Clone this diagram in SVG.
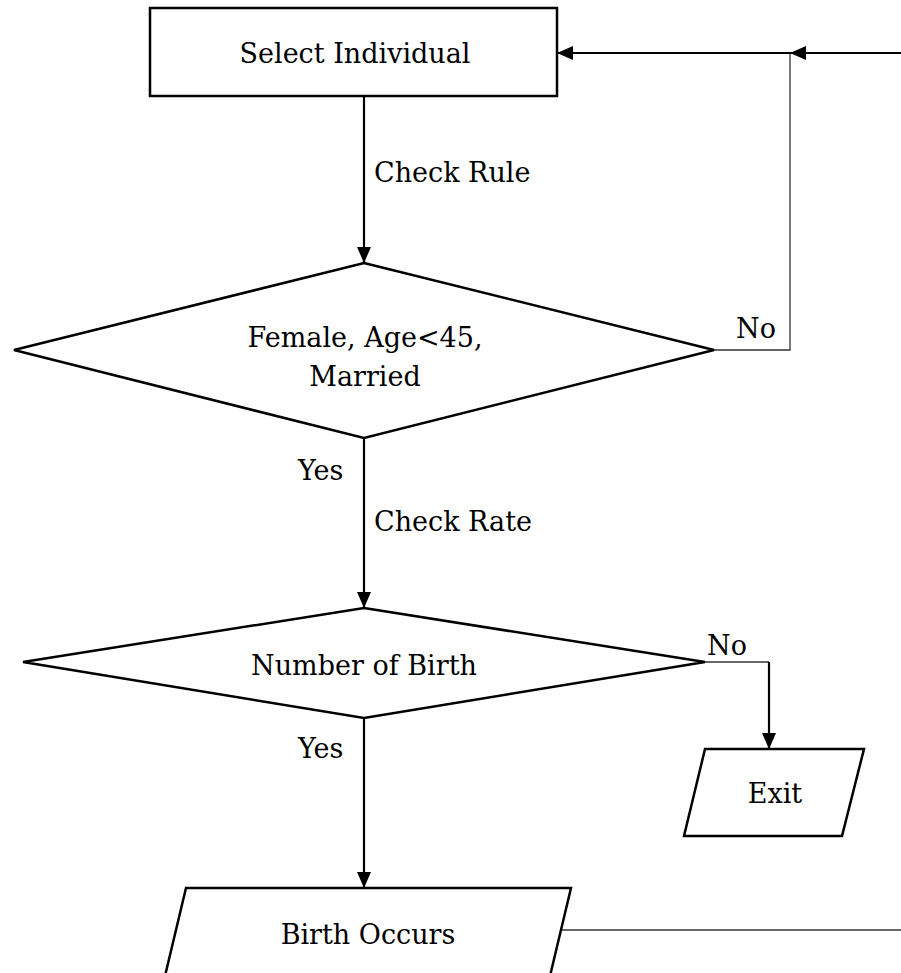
<svg xmlns="http://www.w3.org/2000/svg" width="901" height="973" viewBox="0 0 901 973">
<style>
.shape{fill:#fff;stroke:#000;stroke-width:2.5}
.t{font-family:"DejaVu Serif","Liberation Serif",serif;font-size:27px;fill:#000}
.c{text-anchor:middle}
.thick{stroke:#000;stroke-width:2.2;fill:none}
.thin{stroke:#333;stroke-width:1.3;fill:none}
</style>
<defs>
<marker id="ah" markerUnits="userSpaceOnUse" markerWidth="16" markerHeight="14" viewBox="0 0 16 14" refX="16" refY="7" orient="auto">
<path d="M0,0 L16,7 L0,14 Z" fill="#000"/>
</marker>
</defs>
<g id="connectors">
<line class="thick" x1="364" y1="96" x2="364" y2="263" marker-end="url(#ah)"/>
<line class="thick" x1="364" y1="438" x2="364" y2="608" marker-end="url(#ah)"/>
<line class="thick" x1="364" y1="718" x2="364" y2="888" marker-end="url(#ah)"/>
<line class="thin" x1="705" y1="662" x2="769" y2="662"/>
<line class="thick" x1="769" y1="662" x2="769" y2="749" marker-end="url(#ah)"/>
<polyline class="thin" points="714,350 790,350 790,53"/>
<line class="thick" x1="790" y1="53" x2="557" y2="53" marker-end="url(#ah)"/>
<line class="thick" x1="901" y1="53" x2="790" y2="53" marker-end="url(#ah)"/>
<line class="thin" x1="561" y1="930" x2="901" y2="930"/>
<text class="t" x="374" y="182">Check Rule</text>
<text class="t" x="736" y="338">No</text>
<text class="t" x="298" y="480">Yes</text>
<text class="t" x="374" y="531">Check Rate</text>
<text class="t" x="707" y="655">No</text>
<text class="t" x="298" y="758">Yes</text>
</g>
<g id="select">
<rect class="shape" x="150" y="8" width="407" height="88"/>
<text class="t c" x="355" y="63">Select Individual</text>
</g>
<g id="rule">
<polygon class="shape" points="364,263 714,350 364,438 14,350"/>
<text class="t c" x="365" y="347">Female, Age&lt;45,</text>
<text class="t c" x="365" y="386">Married</text>
</g>
<g id="births">
<polygon class="shape" points="364,608 705,662 364,718 23,662"/>
<text class="t c" x="364" y="675">Number of Birth</text>
</g>
<g id="exit">
<polygon class="shape" points="705,749 864,749 842,836 684,836"/>
<text class="t c" x="775" y="803">Exit</text>
</g>
<g id="birth">
<polygon class="shape" points="186,888 571,888 550,976 165,976"/>
<text class="t c" x="368" y="944">Birth Occurs</text>
</g>
</svg>
